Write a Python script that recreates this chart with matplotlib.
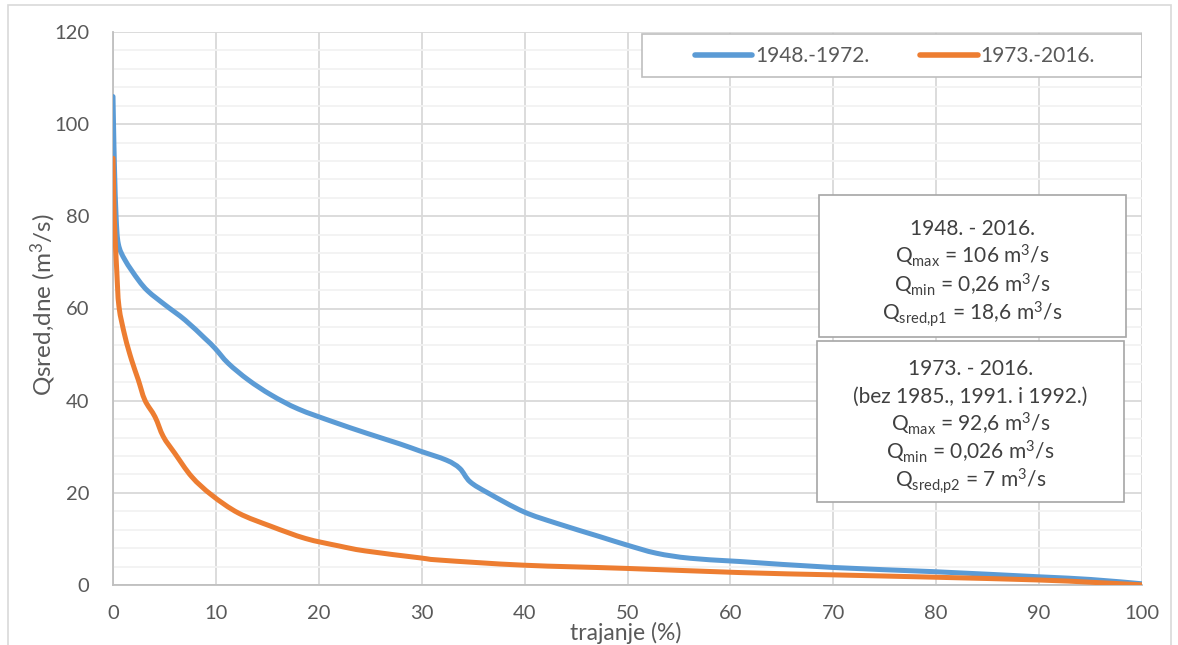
import matplotlib
matplotlib.use("Agg")
import numpy as np
import matplotlib.pyplot as plt
from matplotlib.lines import Line2D
from matplotlib.patches import Rectangle, PathPatch
from matplotlib.path import Path
from matplotlib.ticker import MultipleLocator

plt.rcParams['font.family'] = ['Lato', 'DejaVu Sans']
plt.rcParams['mathtext.default'] = 'regular'

# trajanje (%) vs Qsred,dne (m3/s)
x_p1 = [0, 0.05, 0.15, 0.3, 0.52, 1.17, 2.46, 3.43, 5.05, 7.0, 8.94, 9.9, 11.2, 13.15,
        15.4, 18.0, 21.4, 24.7, 27.9, 29.8, 32.4, 33.7, 34.7, 36.5, 39.9, 43.1, 47.3,
        49.9, 52.8, 56.1, 60.9, 70.0, 79.7, 89.8, 95.0, 100]
q_p1 = [106, 100, 90, 80, 74, 70.5, 66.2, 63.7, 60.8, 57.5, 53.5, 51.4, 48.1, 44.5,
        41.2, 38.2, 35.4, 32.9, 30.6, 29.1, 27.1, 25.3, 22.4, 19.9, 15.9, 13.4, 10.5,
        8.7, 6.9, 5.8, 5.1, 3.8, 2.9, 1.8, 1.2, 0.26]

x_p2 = [0, 0.05, 0.13, 0.36, 0.58, 1.17, 1.81, 2.46, 3.1, 4.08, 4.89, 6.0, 7.65, 9.6,
        12.2, 15.4, 18.7, 21.9, 24.5, 29.8, 31.8, 39.9, 49.9, 60.9, 70.0, 79.7, 89.8,
        95.0, 100]
q_p2 = [92.6, 87, 79.2, 68.4, 60.4, 53.9, 48.8, 44.5, 40.1, 36.5, 32.2, 28.6, 23.5, 19.5,
        15.6, 12.7, 10.1, 8.5, 7.4, 5.9, 5.4, 4.3, 3.6, 2.7, 2.2, 1.7, 1.1,
        0.6, 0.026]

labels = ['1948.-1972.', '1973.-2016.']
colors = ['#5B9BD5', '#ED7D31']

box1_lines = ["1948. - 2016.",
              "Q$_{max}$ = 106 m$^{3}$/s",
              "Q$_{min}$ = 0,26 m$^{3}$/s",
              "Q$_{sred{,}p1}$ = 18,6 m$^{3}$/s"]
box2_lines = ["1973. - 2016.",
              "(bez 1985., 1991. i 1992.)",
              "Q$_{max}$ = 92,6 m$^{3}$/s",
              "Q$_{min}$ = 0,026 m$^{3}$/s",
              "Q$_{sred{,}p2}$ = 7 m$^{3}$/s"]

W, H = 1178, 645
X0, X1, Y0, Y1 = 113, 1142, 585, 32   # plot area in pixels
fig = plt.figure(figsize=(W / 100, H / 100), dpi=100)
ax = fig.add_axes([X0 / W, 1 - Y0 / H, (X1 - X0) / W, (Y0 - Y1) / H])
ax.set_xlim(0, 100)
ax.set_ylim(0, 120)


def ax_xy(px, py):
    # pixel position -> axes fraction
    return (px - X0) / (X1 - X0), (Y0 - py) / (Y0 - Y1)


def smooth_path(xs, ys):
    # Excel-like smoothed line: Catmull-Rom segments as cubic Beziers, built in screen space
    pts = ax.transData.transform(np.column_stack([xs, ys]))
    n = len(pts)
    verts = [pts[0]]
    codes = [Path.MOVETO]
    for i in range(n - 1):
        p0 = pts[max(i - 1, 0)]
        p1, p2 = pts[i], pts[i + 1]
        p3 = pts[min(i + 2, n - 1)]
        verts += [p1 + (p2 - p0) / 6, p2 - (p3 - p1) / 6, p2]
        codes += [Path.CURVE4] * 3
    verts = ax.transData.inverted().transform(np.array(verts))
    return Path(verts, codes)


# outer chart border
fig.patches.append(Rectangle((8 / W, -0.05), (1171 - 8) / W, 1 - 5 / H + 0.05,
                             transform=fig.transFigure, fill=False,
                             edgecolor='#D9D9D9', linewidth=1.2))

for xs, ys, c, z in [(x_p1, q_p1, colors[0], 3), (x_p2, q_p2, colors[1], 4)]:
    ax.add_patch(PathPatch(smooth_path(xs, ys), fill=False, edgecolor=c, linewidth=3.6,
                           capstyle='round', joinstyle='round', zorder=z))

ax.xaxis.set_major_locator(MultipleLocator(10))
ax.yaxis.set_major_locator(MultipleLocator(20))
ax.yaxis.set_minor_locator(MultipleLocator(4))
ax.grid(which='major', color='#D9D9D9', linewidth=1.3, zorder=0)
ax.grid(which='minor', axis='y', color='#F2F2F2', linewidth=1.3, zorder=0)
ax.set_axisbelow(True)

for s in ['top', 'right']:
    ax.spines[s].set_visible(False)
for s in ['left', 'bottom']:
    ax.spines[s].set_color('#BFBFBF')
    ax.spines[s].set_linewidth(1.3)

ax.tick_params(which='both', length=0, labelsize=14.5, labelcolor='#595959')
ax.tick_params(axis='x', pad=14.5)
ax.tick_params(axis='y', pad=17)

ax.set_ylabel('Qsred,dne (m$^{3}$/s)', fontsize=17.5, color='#595959', va='center')
ax.yaxis.set_label_coords(ax_xy(43, 0)[0], ax_xy(0, 305)[1])
ax.set_xlabel('trajanje (%)', fontsize=16.5, color='#595959', va='baseline')
ax.xaxis.set_label_coords(ax_xy(626, 0)[0], ax_xy(0, 640)[1])

# legend with its own frame
lx0, ly0 = ax_xy(642, 77)
lx1, ly1 = ax_xy(1142, 34)
ax.add_patch(Rectangle((lx0, ly0), lx1 - lx0, ly1 - ly0, transform=ax.transAxes,
                       facecolor='white', edgecolor='#BFBFBF', linewidth=1.2, zorder=5))
handles = [Line2D([], [], color=c, linewidth=4, solid_capstyle='round') for c in colors]
leg = ax.legend(handles, labels, loc='center', bbox_to_anchor=ax_xy(895, 56), ncol=2,
                fontsize=15, frameon=False, handlelength=2.74, handletextpad=0.15,
                columnspacing=2.45, borderpad=0.0)
leg.set_zorder(6)
for t in leg.get_texts():
    t.set_color('#595959')

# text boxes with the statistics
bx0, by0 = ax_xy(819, 337)
bx1, by1 = ax_xy(1126, 195)
ax.add_patch(Rectangle((bx0, by0), bx1 - bx0, by1 - by0, transform=ax.transAxes,
                       facecolor='white', edgecolor='#A6A6A6', linewidth=1.2, zorder=5))
for line, base in zip(box1_lines, [235, 263.5, 292, 320.5]):
    ax.text(*ax_xy(972.5, base), line, transform=ax.transAxes, ha='center',
            va='baseline', fontsize=15, color='#404040', zorder=6)

bx0, by0 = ax_xy(817, 502)
bx1, by1 = ax_xy(1124, 341)
ax.add_patch(Rectangle((bx0, by0), bx1 - bx0, by1 - by0, transform=ax.transAxes,
                       facecolor='white', edgecolor='#A6A6A6', linewidth=1.2, zorder=5))
for line, base in zip(box2_lines, [375, 403, 431, 459, 487]):
    ax.text(*ax_xy(970.5, base), line, transform=ax.transAxes, ha='center',
            va='baseline', fontsize=15, color='#404040', zorder=6)

fig.savefig('out.png', dpi=100)
